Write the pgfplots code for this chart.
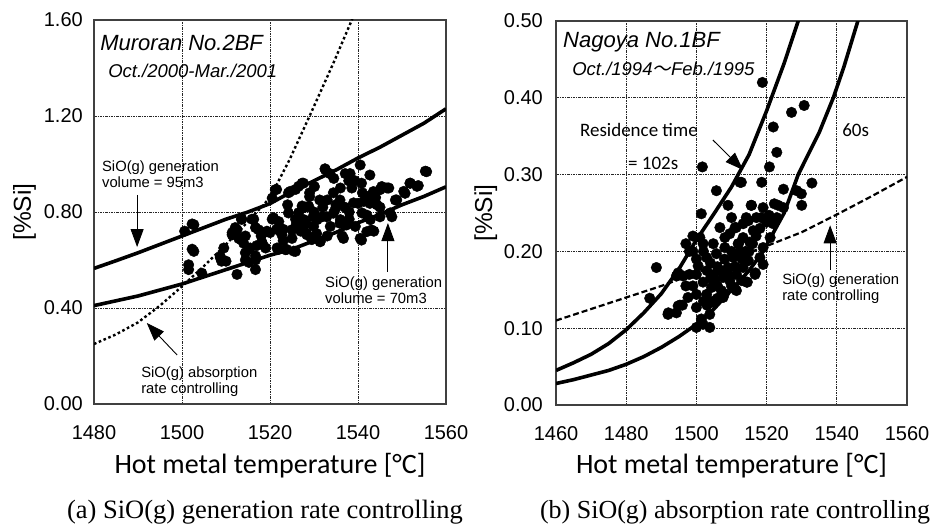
\documentclass[border=0pt]{standalone}
\usepackage{fontspec}
\setmainfont{Liberation Sans}
\newfontfamily\carlito{Carlito}
\newfontfamily\serifcap{Liberation Serif}
\newfontfamily\jpfont{Noto Sans CJK JP}
\usepackage{pgfplots}
\pgfplotsset{compat=1.18}
\usetikzlibrary{arrows.meta}
\tikzset{ann/.style={line width=0.9pt, -{Triangle[length=18pt,width=13pt]}}}
\pgfplotsset{panel/.style={
  scale only axis, height=384pt,
  axis line style={line width=1.2pt, black!75},
  grid=major,
  major grid style={black!85, line width=0.9pt, dash pattern=on 2.5pt off 1pt on 1pt off 1pt},
  major tick length=0pt,
  tick label style={font=\fontsize{20}{20}\selectfont, inner sep=0pt},
  xticklabel style={anchor=base, yshift=-35pt},
  yticklabel style={anchor=east, xshift=-11pt},
  xlabel style={anchor=base, font=\carlito\fontsize{28}{28}\selectfont},
  ylabel style={anchor=center, font=\fontsize{24.5}{24.5}\selectfont},
  curve/.style={black, line width=3.6pt, line join=round},
  dots/.style={only marks, mark=*, mark size=5.3pt, black},
}}
\begin{document}
\begin{tikzpicture}
\path[use as bounding box] (0,0) rectangle (936pt,525pt);
% ---------------- panel (a) ----------------
\begin{axis}[panel, width=352pt, at={(94pt,121pt)}, anchor=south west,
  xmin=1480, xmax=1560, ymin=0, ymax=1.6,
  xtick={1480,1500,1520,1540,1560}, xticklabels={1480,1500,1520,1540,1560},
  ytick={0,0.4,0.8,1.2,1.6}, yticklabels={0.00,0.40,0.80,1.20,1.60},
  xlabel={Hot metal temperature [°C]},
  xlabel style={at={(axis description cs:0.5,-0.18)}},
  ylabel={[\%Si]},
  ylabel style={at={(axis description cs:-0.197,0.5)}}]
\addplot[curve] coordinates {(1480,0.565) (1485,0.597) (1490,0.63) (1495,0.665) (1500,0.70) (1505,0.735) (1510,0.77) (1515,0.80) (1520,0.835) (1525,0.885) (1530,0.93) (1535,0.975) (1540,1.025) (1545,1.07) (1550,1.12) (1555,1.17) (1560,1.23)};
\addplot[curve] coordinates {(1480,0.41) (1485,0.43) (1490,0.45) (1495,0.475) (1500,0.50) (1505,0.53) (1510,0.56) (1515,0.59) (1520,0.62) (1525,0.645) (1530,0.68) (1535,0.715) (1540,0.755) (1545,0.79) (1550,0.83) (1555,0.865) (1560,0.905)};
\addplot[black, line width=2.4pt, dash pattern=on 2.6pt off 2.6pt] coordinates {(1480,0.25) (1485,0.29) (1490,0.34) (1495,0.41) (1500,0.49) (1505,0.575) (1510,0.665) (1515,0.76) (1520,0.86) (1524.5,1.02) (1529,1.2) (1534.4,1.42) (1538.6,1.6) (1542,1.76)};
\addplot[dots] coordinates {
(1500.6,0.72) (1502.7,0.747) (1502.7,0.636) (1501.5,0.58) (1501.5,0.56) (1504.5,0.545) (1509.5,0.65) (1508.7,0.61) (1510,0.595) (1512.5,0.54)
(1511.4,0.705) (1512.5,0.726) (1512.9,0.69) (1513.5,0.77) (1514,0.67) (1514.4,0.63) (1515.5,0.65) (1516.3,0.77) (1516.7,0.56) (1516.7,0.60)
(1517.4,0.726) (1518.2,0.67) (1519.3,0.72) (1520.5,0.77) (1521.2,0.893) (1520.5,0.858) (1521.6,0.65) (1522.7,0.705) (1523.5,0.643) (1524.2,0.796)
(1525,0.726) (1525.8,0.636) (1524.6,0.886) (1526.5,0.907) (1527.7,0.768) (1528.4,0.705) (1528.8,0.824) (1529.5,0.685) (1529.9,0.74) (1530.7,0.768)
(1531.4,0.678) (1531.8,0.78) (1532.6,0.976) (1533,0.85) (1533.7,0.74) (1534.5,0.94) (1534.8,0.81) (1536,0.768) (1536.4,0.70) (1537.1,0.96)
(1537.9,0.93) (1538.6,0.90) (1539,0.838) (1539.4,0.74) (1540.5,0.69) (1540.9,0.796) (1541.3,0.844) (1542,0.865) (1542.8,0.768) (1543.6,0.72)
(1544.3,0.83) (1545,0.893) (1546.6,0.90) (1547.3,0.796) (1548.5,0.85) (1550.4,0.886) (1551.9,0.92) (1553.4,0.907) (1555.3,0.97)
(1502.3,0.75) (1502.3,0.645) (1508.7,0.615) (1509,0.595) (1511.4,0.714) (1512.1,0.735) (1513.6,0.77) (1513.3,0.686) (1514.4,0.70) (1515.9,0.77)
(1516.7,0.735) (1515.2,0.644) (1517,0.66) (1518.2,0.672) (1516.7,0.617) (1515.2,0.59) (1514.4,0.60) (1520.8,0.776) (1521.5,0.894) (1521.5,0.728)
(1520,0.714) (1523,0.728) (1521.9,0.644) (1523.8,0.644) (1524.2,0.88) (1525.8,0.894) (1527.3,0.92) (1525,0.69) (1525.8,0.77) (1527,0.72)
(1525.4,0.637) (1526.5,0.797) (1527.3,0.825) (1527.7,0.756)
(1527.6,0.92) (1528,0.82) (1528.3,0.75) (1529.8,0.78) (1531.3,0.85) (1532.5,0.98) (1533.6,0.96) (1534.4,0.88) (1535.9,0.85) (1537,0.82)
(1538.2,0.96) (1539.3,0.93) (1540.5,0.996) (1540.8,0.92) (1542.7,0.954) (1543.5,0.885) (1542.7,0.836) (1540,0.836) (1542,0.787) (1545,0.78)
(1545.4,0.906) (1547,0.90) (1547.7,0.78) (1548.8,0.85) (1550.7,0.878) (1551.8,0.92) (1553.7,0.91) (1555.6,0.968) (1537.4,0.746) (1536.7,0.69)
(1540.8,0.683) (1542,0.718) (1543.1,0.725) (1530.6,0.71) (1531.4,0.676) (1528.3,0.71) (1532.9,0.78) (1534.4,0.795) (1535.9,0.753) (1529,0.864)
(1530.1,0.906)
(1518,0.70) (1522,0.76) (1526,0.75) (1530,0.80) (1532,0.82) (1535,0.83) (1538,0.80) (1536,0.90) (1541,0.88) (1544,0.86)
(1519,0.65) (1523,0.68) (1533,0.70) (1538,0.77) (1524,0.83) (1529,0.88) (1545,0.82)};
\node[anchor=west, inner sep=0pt, font=\fontsize{22}{22}\selectfont\itshape] at (axis cs:1481.4,1.504) {Muroran No.2BF};
\node[anchor=west, inner sep=0pt, font=\fontsize{18.5}{18.5}\selectfont\itshape] at (axis cs:1483.2,1.3875) {Oct./2000-Mar./2001};
\node[anchor=west, inner sep=0pt, align=left, font=\fontsize{14.8}{16}\selectfont] at (axis cs:1481.8,0.958) {SiO(g) generation\\volume = 95m3};
\draw[ann] (axis cs:1489.8,0.871) -- (axis cs:1489.8,0.654);
\node[anchor=west, inner sep=0pt, align=left, font=\fontsize{14.8}{16}\selectfont] at (axis cs:1532.5,0.475) {SiO(g) generation\\volume = 70m3};
\draw[ann] (axis cs:1546.8,0.55) -- (axis cs:1546.8,0.754);
\node[anchor=west, inner sep=0pt, align=left, font=\fontsize{14.8}{16}\selectfont] at (axis cs:1490.7,0.092) {SiO(g) absorption\\rate controlling};
\draw[ann] (axis cs:1498.9,0.204) -- (axis cs:1492.0,0.3375);
\end{axis}
% ---------------- panel (b) ----------------
\begin{axis}[panel, width=351pt, at={(556pt,120pt)}, anchor=south west,
  xmin=1460, xmax=1560, ymin=0, ymax=0.5,
  xtick={1460,1480,1500,1520,1540,1560}, xticklabels={1460,1480,1500,1520,1540,1560},
  ytick={0,0.1,0.2,0.3,0.4,0.5}, yticklabels={0.00,0.10,0.20,0.30,0.40,0.50},
  yticklabel style={xshift=-2pt},
  xlabel={Hot metal temperature [°C]},
  xlabel style={at={(axis description cs:0.5,-0.178)}},
  ylabel={[\%Si]},
  ylabel style={at={(axis description cs:-0.2,0.5)}}]
\addplot[curve] coordinates {(1460,0.045) (1465,0.055) (1470,0.066) (1475,0.08) (1480,0.098) (1485,0.12) (1490,0.145) (1495,0.177) (1500,0.215) (1505,0.249) (1510,0.284) (1515,0.326) (1520,0.383) (1525,0.445) (1529,0.50) (1531,0.53)};
\addplot[curve] coordinates {(1460,0.028) (1465,0.033) (1470,0.039) (1475,0.045) (1480,0.053) (1485,0.063) (1490,0.075) (1495,0.089) (1500,0.105) (1505,0.125) (1510,0.15) (1515,0.175) (1519,0.20) (1525,0.25) (1529,0.30) (1535,0.355) (1539,0.40) (1542,0.44) (1546,0.50) (1548,0.53)};
\addplot[black, line width=2.2pt, dash pattern=on 6pt off 3pt] coordinates {(1460,0.11) (1470,0.125) (1480,0.14) (1490,0.155) (1500,0.172) (1510,0.19) (1520,0.207) (1530,0.225) (1540,0.248) (1550,0.272) (1560,0.297)};
\addplot[dots] coordinates {
(1518.8,0.42) (1527.1,0.381) (1530.7,0.39) (1521.9,0.362) (1522.9,0.329) (1520.8,0.31) (1501.7,0.31) (1512.4,0.29) (1518.6,0.29) (1532.9,0.289)
(1505.7,0.279) (1524.8,0.281) (1528.6,0.279) (1530,0.26) (1501.4,0.249) (1509,0.26) (1515.7,0.26) (1519,0.257) (1523.3,0.26) (1520.5,0.244)
(1521.9,0.236) (1514.8,0.24) (1518.1,0.23) (1511,0.231) (1506.7,0.231) (1499,0.22) (1501,0.218) (1504.8,0.21) (1501.9,0.21) (1509.5,0.223)
(1513.3,0.218) (1515.2,0.212) (1519,0.205) (1518.1,0.192) (1488.6,0.179) (1494.3,0.168) (1496.2,0.168) (1500.5,0.181) (1502.9,0.192) (1505.7,0.197)
(1508.1,0.205) (1510.5,0.192) (1512.4,0.199) (1514.8,0.188) (1516.7,0.17) (1513.3,0.179) (1509,0.179) (1500,0.17) (1501.9,0.16) (1505.2,0.162)
(1507.1,0.149) (1509.5,0.162) (1511.4,0.17) (1514.3,0.16) (1486.7,0.139) (1497.6,0.14) (1500,0.144) (1502.9,0.144) (1505.2,0.136) (1507.6,0.14)
(1494.8,0.129) (1494.3,0.12) (1491.9,0.118) (1500,0.127) (1501.4,0.112) (1500,0.101) (1503.8,0.101) (1501.9,0.105) (1503.8,0.118) (1504.3,0.153)
(1507.6,0.166) (1511.4,0.149) (1512.9,0.162) (1519,0.183) (1521,0.218) (1522.9,0.244) (1524.8,0.257) (1517.1,0.244) (1516.2,0.227) (1511.9,0.21)
(1508.1,0.218) (1510,0.244) (1513.3,0.236)
(1512.8,0.29) (1529.9,0.275) (1515.6,0.26) (1522.2,0.262) (1520.7,0.247) (1511.3,0.231) (1518.5,0.244) (1520,0.238) (1514.2,0.244)
(1498,0.20) (1500,0.19) (1502,0.20) (1504,0.185) (1506,0.18) (1508,0.19) (1510,0.20) (1512,0.21) (1514,0.20) (1516,0.21)
(1517,0.22) (1503,0.175) (1505,0.17) (1507,0.175) (1509,0.17) (1511,0.18) (1513,0.19) (1515,0.20) (1503,0.13) (1506,0.155)
(1508,0.145) (1510,0.155) (1502,0.135) (1504,0.165) (1499,0.155) (1498,0.17) (1497,0.155) (1496,0.13) (1499,0.20) (1497,0.21)
(1516.8,0.172) (1514.5,0.16) (1511,0.151) (1506,0.139) (1504,0.133) (1494.8,0.172) (1495.3,0.13) (1492,0.12)};
\node[anchor=west, inner sep=0pt, font=\fontsize{22}{22}\selectfont\itshape] at (axis cs:1462,0.4727) {Nagoya No.1BF};
\node[anchor=west, inner sep=0pt, font=\fontsize{18.5}{18.5}\selectfont\itshape] at (axis cs:1464.6,0.4375) {Oct./1994{\jpfont\addfontfeatures{FakeSlant=0.2}～}Feb./1995};
\node[anchor=west, inner sep=0pt, font=\carlito\fontsize{19}{19}\selectfont] at (axis cs:1466.8,0.358) {Residence time};
\node[anchor=west, inner sep=0pt, font=\carlito\fontsize{19}{19}\selectfont] at (axis cs:1480.5,0.315) {= 102s};
\node[anchor=west, inner sep=0pt, font=\carlito\fontsize{19}{19}\selectfont] at (axis cs:1541.5,0.358) {60s};
\draw[ann] (axis cs:1504.7,0.345) -- (axis cs:1513.3,0.306);
\node[anchor=west, inner sep=0pt, align=left, font=\fontsize{14.8}{16}\selectfont] at (axis cs:1524.4,0.151) {SiO(g) generation\\rate controlling};
\draw[ann] (axis cs:1538.1,0.176) -- (axis cs:1538.1,0.234);
\end{axis}
\node[anchor=base, inner sep=0pt, font=\serifcap\fontsize{26.5}{26.5}\selectfont] at (265pt,7pt) {(a) SiO(g) generation rate controlling};
\node[anchor=base, inner sep=0pt, font=\serifcap\fontsize{26}{26}\selectfont] at (735pt,7pt) {(b) SiO(g) absorption rate controlling};
\end{tikzpicture}
\end{document}
